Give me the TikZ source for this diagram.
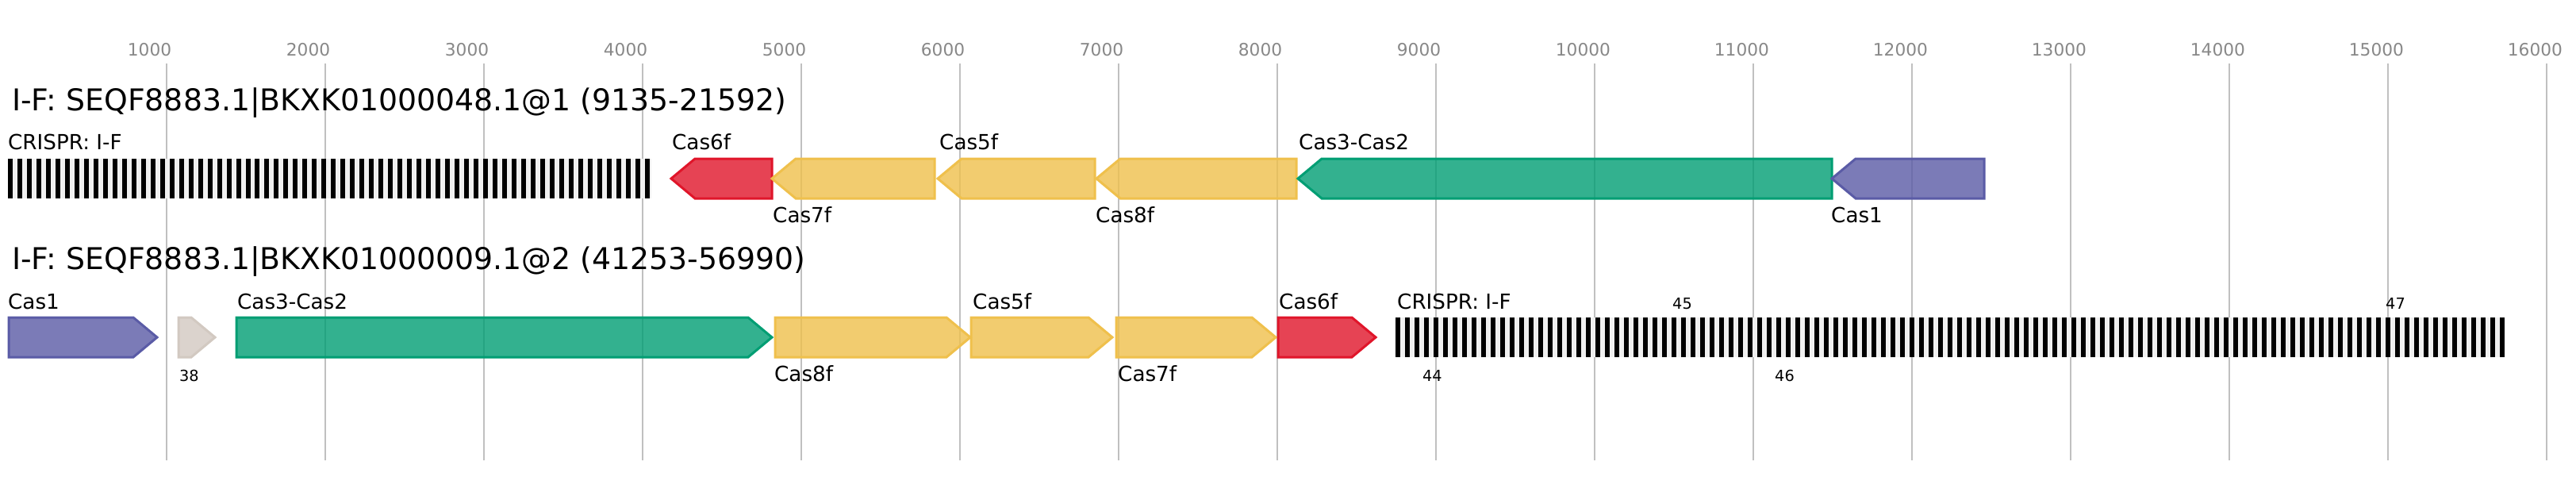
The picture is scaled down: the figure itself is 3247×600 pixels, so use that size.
\documentclass[tikz,border=0pt]{standalone}
\usepackage{fontspec}
\setmainfont{DejaVu Sans}
\definecolor{cred}{HTML}{E0152A}
\definecolor{cyel}{HTML}{EFC04C}
\definecolor{cgrn}{HTML}{009E73}
\definecolor{cpur}{HTML}{5A5BA6}
\definecolor{cbei}{HTML}{D2C9C1}
\definecolor{gridc}{HTML}{C0C0C0}
\definecolor{tickc}{HTML}{888888}
\definecolor{crbg}{HTML}{F0F0F0}
\tikzset{
  ticklbl/.style={anchor=base west, inner sep=0pt, text=tickc, font=\fontsize{21.7}{24}\selectfont},
  ttl/.style={anchor=base west, inner sep=0pt, font=\fontsize{37.8}{42}\selectfont},
  lbl/.style={anchor=base west, inner sep=0pt, font=\fontsize{26.2}{30}\selectfont},
  num/.style={anchor=base west, inner sep=0pt, font=\fontsize{19.3}{22}\selectfont},
  gene/.style={line width=3pt, line join=miter},
  gridline/.style={draw=gridc, line width=2pt},
}
\newcommand\lgene[4]{% tip, right, yc, color
  \filldraw[gene, draw=#4, fill=#4, fill opacity=0.8] (#1,#3) -- ({#1+30},{#3-25}) -- (#2,{#3-25}) -- (#2,{#3+25}) -- ({#1+30},{#3+25}) -- cycle;}
\newcommand\rgene[4]{% left, tip, yc, color
  \filldraw[gene, draw=#4, fill=#4, fill opacity=0.8] (#1,{#3-25}) -- ({#2-30},{#3-25}) -- (#2,#3) -- ({#2-30},{#3+25}) -- (#1,{#3+25}) -- cycle;}
\begin{document}
\begin{tikzpicture}[x=1pt,y=-1pt]
\useasboundingbox[fill=white] (0,0) rectangle (3247,600);
% grid and ticks
\foreach \k in {1,...,16}{
  \draw[gridline] ({9.7+200*\k},80) -- ({9.7+200*\k},580);
  \pgfmathtruncatemacro\lab{1000*\k}
  \node[ticklbl] (t\k) at ({9.7+200*\k-49},70) {\lab};
}
% titles
\node[ttl] (title1) at (15,139.5) {I-F: SEQF8883.1|BKXK01000048.1@1 (9135-21592)};
\node[ttl] (title2) at (15,339.5) {I-F: SEQF8883.1|BKXK01000009.1@2 (41253-56990)};
% row 1
\fill[crbg] (10,200) rectangle (821,250);
\foreach \k in {0,...,67}{\fill[black] ({10+11.98*\k},200) rectangle ++(6,50);}
\lgene{846}{973}{225}{cred}
\lgene{973}{1178}{225}{cyel}
\lgene{1182}{1380}{225}{cyel}
\lgene{1382}{1634}{225}{cyel}
\lgene{1636}{2309}{225}{cgrn}
\lgene{2309}{2501}{225}{cpur}
\node[lbl] (r1crispr) at (10,188) {CRISPR: I-F};
\node[lbl] (r1cas6f) at (847,188) {Cas6f};
\node[lbl] (r1cas5f) at (1184,188) {Cas5f};
\node[lbl] (r1cas3) at (1637,188) {Cas3-Cas2};
\node[lbl] (r1cas7f) at (974,280) {Cas7f};
\node[lbl] (r1cas8f) at (1381,280) {Cas8f};
\node[lbl] (r1cas1) at (2308,280) {Cas1};
% row 2
\rgene{11}{198}{425}{cpur}
\rgene{225}{271}{425}{cbei}
\rgene{298}{973}{425}{cgrn}
\rgene{977}{1223}{425}{cyel}
\rgene{1224}{1402}{425}{cyel}
\rgene{1407}{1608}{425}{cyel}
\rgene{1611}{1734}{425}{cred}
\fill[crbg] (1759.3,400) rectangle (3157.3,450);
\foreach \k in {0,...,116}{\fill[black] ({1759.3+12*\k},400) rectangle ++(6,50);}
\node[lbl] (r2cas1) at (10,389) {Cas1};
\node[lbl] (r2cas3) at (299,389) {Cas3-Cas2};
\node[lbl] (r2cas5f) at (1226,389) {Cas5f};
\node[lbl] (r2cas6f) at (1612,389) {Cas6f};
\node[lbl] (r2crispr) at (1761,389) {CRISPR: I-F};
\node[num] (n45) at (2108,389) {45};
\node[num] (n47) at (3007,389) {47};
\node[num] (n38) at (226,480) {38};
\node[lbl] (r2cas8f) at (976,480) {Cas8f};
\node[lbl] (r2cas7f) at (1409,480) {Cas7f};
\node[num] (n44) at (1793,480) {44};
\node[num] (n46) at (2237,480) {46};
\end{tikzpicture}
\end{document}
